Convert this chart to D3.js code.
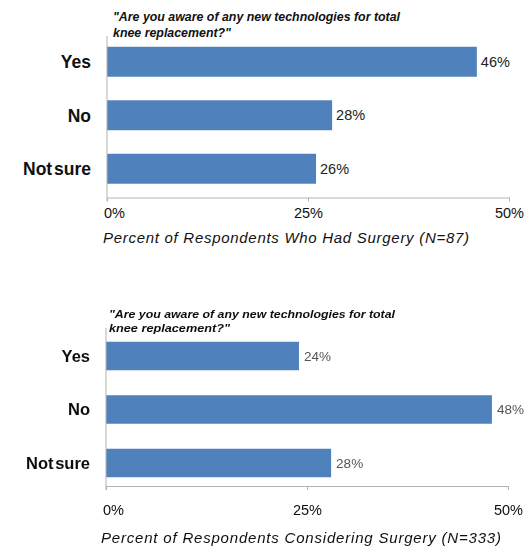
<!DOCTYPE html>
<html>
<head>
<meta charset="utf-8">
<script src="https://cdn.jsdelivr.net/npm/d3@7"></script>
<style>
  html, body { margin: 0; padding: 0; background: #fff; }
  svg { display: block; }
  text { font-family: "Liberation Sans", Arial, sans-serif; }
</style>
</head>
<body>
<svg id="chart" width="530" height="549"></svg>
<script>
// Survey answers and the share of respondents for each group
const categories = ["Yes", "No", "Not sure"];
const hadSurgery = [46, 28, 26];
const consideringSurgery = [24, 48, 28];
const tickValues = [0, 25, 50];
const questionLines = ["\"Are you aware of any new technologies for total", "knee replacement?\""];
const axisTitles = [
  "Percent of Respondents Who Had Surgery (N=87)",
  "Percent of Respondents Considering Surgery (N=333)"
];

const BAR = "#4f81bd";
const AXIS = "#b3b3b3";

const svg = d3.select("#chart");
const defs = svg.append("defs");
defs.append("filter").attr("id", "soft")
  .append("feGaussianBlur").attr("stdDeviation", 0.65);

// Panel layouts
const panels = [
  {
    values: hadSurgery, title: axisTitles[0],
    x0: 107, x1: 509, bandTop: 35, bandBottom: 195.5, padding: 0.44,
    axisTop: 36, axisY: 197.5, axisEnd: 201, tickPad: 6,
    qX: 113, qY: [21, 37], qSize: 12.2, qLen: [287, 118],
    catSize: 17.5, catX: 91, valSize: 14.5, valColor: "#222", valGap: 4,
    tickSize: 14.5, titleY: 243, titleSize: 15, titleLen: 366, titleX: 103,
    blur: false
  },
  {
    values: consideringSurgery, title: axisTitles[1],
    x0: 106, x1: 508, bandTop: 329.25, bandBottom: 489.75, padding: 0.467,
    axisTop: 328, axisY: 486, axisEnd: 490, tickPad: 15,
    qX: 109, qY: [318, 332], qSize: 10.5, qLen: [286, 121],
    catSize: 16.5, catX: 90, valSize: 13.5, valColor: "#555", valGap: 5,
    tickSize: 14.5, titleY: 543, titleSize: 15, titleLen: 400, titleX: 101,
    blur: true
  }
];

panels.forEach(p => {
  const g = svg.append("g");
  if (p.blur) g.attr("filter", "url(#soft)");

  const x = d3.scaleLinear().domain([0, 50]).range([p.x0, p.x1]);
  const y = d3.scaleBand().domain(categories)
    .range([p.bandTop, p.bandBottom])
    .paddingInner(p.padding).paddingOuter(p.padding / 2);

  const data = categories.map((c, i) => ({ cat: c, val: p.values[i] }));

  // Question heading
  p.qY.forEach((yy, i) => {
    g.append("text")
      .attr("x", p.qX).attr("y", yy)
      .attr("font-size", p.qSize)
      .attr("font-weight", "bold").attr("font-style", "italic")
      .attr("fill", "#111")
      .attr("textLength", p.qLen[i]).attr("lengthAdjust", "spacingAndGlyphs")
      .text(questionLines[i]);
  });

  // Bars
  g.selectAll("rect.bar").data(data).join("rect")
    .attr("class", "bar")
    .attr("x", x(0))
    .attr("y", d => y(d.cat))
    .attr("width", d => x(d.val) - x(0))
    .attr("height", y.bandwidth())
    .attr("fill", BAR);

  // Value labels
  g.selectAll("text.val").data(data).join("text")
    .attr("class", "val")
    .attr("x", d => x(d.val) + p.valGap)
    .attr("y", d => y(d.cat) + y.bandwidth() / 2)
    .attr("dy", "0.36em")
    .attr("font-size", p.valSize)
    .attr("fill", p.valColor)
    .text(d => d.val + "%");

  // Category labels
  g.selectAll("text.cat").data(data).join("text")
    .attr("class", "cat")
    .attr("x", p.catX)
    .attr("y", d => y(d.cat) + y.bandwidth() / 2)
    .attr("dy", "0.36em")
    .attr("text-anchor", "end")
    .attr("font-size", p.catSize)
    .attr("font-weight", "bold")
    .attr("fill", "#111")
    .style("word-spacing", "-3px")
    .text(d => d.cat);

  // Horizontal axis with ticks and percent labels
  const ax = g.append("g")
    .attr("transform", `translate(0,${p.axisY})`)
    .call(d3.axisBottom(x).tickValues(tickValues)
      .tickFormat(d => d + "%").tickSizeInner(4).tickSizeOuter(0).tickPadding(p.tickPad));
  ax.select(".domain").attr("stroke", AXIS);
  ax.selectAll(".tick line").attr("stroke", AXIS);
  ax.selectAll(".tick text")
    .attr("font-size", p.tickSize)
    .attr("font-family", "Liberation Sans, Arial, sans-serif")
    .attr("fill", "#111")
    .attr("dx", d => d === 0 ? 7 : 0);

  // Vertical axis line
  g.append("line")
    .attr("x1", x(0)).attr("x2", x(0))
    .attr("y1", p.axisTop).attr("y2", p.axisEnd)
    .attr("stroke", AXIS);

  // Axis title
  g.append("text")
    .attr("x", p.titleX).attr("y", p.titleY)
    .attr("font-size", p.titleSize)
    .attr("font-style", "italic")
    .attr("fill", "#111")
    .attr("textLength", p.titleLen).attr("lengthAdjust", "spacing")
    .text(p.title);
});
</script>
</body>
</html>
